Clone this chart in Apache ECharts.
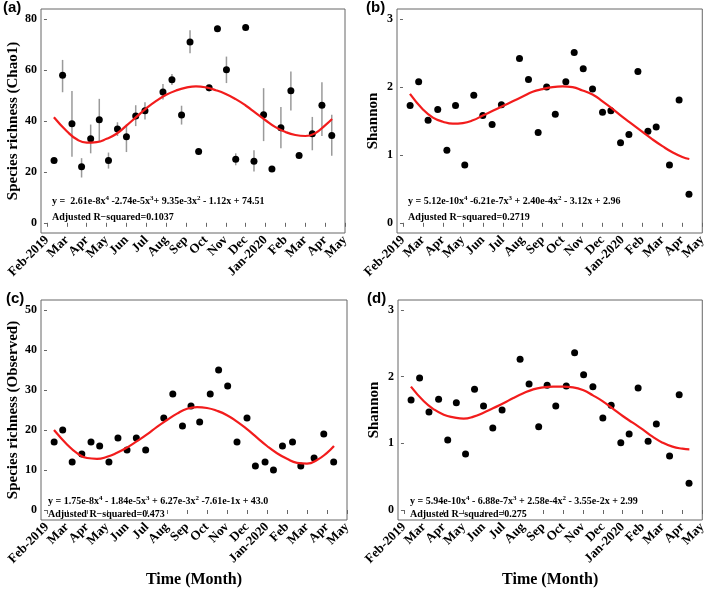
<!DOCTYPE html>
<html>
<head>
<meta charset="utf-8">
<script src="https://cdn.jsdelivr.net/npm/echarts@6/dist/echarts.min.js"></script>
<style>
  html, body { margin: 0; padding: 0; background: #fff; }
  #main { width: 709px; height: 589px; }
</style>
</head>
<body>
<div id="main"></div>
<script>
// month tick labels (Feb-2019 .. May-2020)
var monthLabels = ['Feb-2019', 'Mar', 'Apr', 'May', 'Jun', 'Jul', 'Aug', 'Sep', 'Oct', 'Nov', 'Dec', 'Jan-2020', 'Feb', 'Mar', 'Apr', 'May'];
var monthTicks = [0, 1, 2, 3, 4, 5, 6, 7, 8, 9, 10, 11, 12, 13, 14, 15];

// sampling dates
var sampleDates = ['2019-02-11', '2019-02-23', '2019-03-09', '2019-03-24', '2019-04-07', '2019-04-20', '2019-05-04', '2019-05-18',
  '2019-06-01', '2019-06-15', '2019-06-29', '2019-07-27', '2019-08-10', '2019-08-25', '2019-09-07', '2019-09-20',
  '2019-10-06', '2019-10-19', '2019-11-02', '2019-11-16', '2019-12-01', '2019-12-14', '2019-12-29', '2020-01-11',
  '2020-01-25', '2020-02-09', '2020-02-21', '2020-03-12', '2020-03-27', '2020-04-11'];

// (a) Chao1 with error bars
var chao1 = [24.5, 58.0, 38.9, 22.0, 33.0, 40.5, 24.5, 36.9, 33.8, 42.0, 44.0, 51.4, 56.2, 42.4, 71.0, 28.0,
  53.1, 76.2, 60.1, 25.0, 76.7, 24.2, 42.5, 21.1, 37.3, 51.9, 26.4, 35.0, 46.2, 34.3];
var chao1Low = [null, 51.3, 26.0, 17.8, 27.3, 31.9, 21.3, 34.1, 27.8, 38.0, 40.6, 48.4, 54.1, 38.6, 66.6, null,
  51.6, 75.0, 54.9, 22.6, null, 20.2, 32.1, null, 29.3, 44.1, null, 28.5, 34.1, 26.3];
var chao1High = [null, 64.0, 51.8, 25.4, 38.6, 48.7, 27.6, 39.5, 38.6, 46.2, 47.4, 54.5, 58.5, 46.0, 75.7, null,
  54.1, 77.4, 65.3, 27.3, null, 28.5, 52.9, null, 45.5, 59.4, null, 41.6, 55.2, 42.5];
// (b) Shannon
var shannonB = [1.73, 2.08, 1.51, 1.67, 1.07, 1.73, 0.85, 1.88, 1.58, 1.45, 1.74, 2.42, 2.11, 1.33, 2.00, 1.60,
  2.08, 2.51, 2.27, 1.97, 1.63, 1.65, 1.18, 1.30, 2.23, 1.35, 1.41, 0.85, 1.81, 0.42];
// (c) Observed
var observed = [17, 20, 12, 14, 17, 16, 12, 18, 15, 18, 15, 23, 29, 21, 26, 22,
  29, 35, 31, 17, 23, 11, 12, 10, 16, 17, 11, 13, 19, 12];
// (d) Shannon
var shannonD = [1.65, 1.98, 1.47, 1.66, 1.05, 1.61, 0.84, 1.81, 1.56, 1.23, 1.50, 2.26, 1.89, 1.25, 1.87, 1.56,
  1.86, 2.36, 2.03, 1.85, 1.38, 1.57, 1.01, 1.14, 1.83, 1.03, 1.29, 0.81, 1.73, 0.40];

// fitted curves (month position -> value)
var curveX = [0.35, 1, 1.5, 2, 2.5, 3, 3.5, 4, 4.5, 5, 5.5, 6, 6.5, 7, 7.5, 8, 8.5, 9, 9.5, 10, 10.5, 11, 11.5, 12, 12.5, 13, 13.5, 14, 14.35];
var fitA = [41.5, 36.0, 32.8, 31.5, 31.7, 33.0, 35.0, 38.2, 41.6, 45.0, 47.9, 50.3, 52.0, 53.1, 53.6, 53.2, 52.1, 50.6, 48.6, 46.1, 43.2, 40.3, 37.6, 35.7, 34.5, 34.1, 35.2, 38.3, 40.8];
var fitB = [1.90, 1.67, 1.55, 1.49, 1.46, 1.47, 1.51, 1.58, 1.65, 1.72, 1.79, 1.86, 1.93, 1.97, 2.00, 2.01, 2.00, 1.95, 1.89, 1.79, 1.68, 1.56, 1.45, 1.34, 1.23, 1.13, 1.04, 0.97, 0.94];
var fitC = [20.0, 16.4, 14.2, 13.0, 12.8, 13.3, 14.3, 15.6, 17.2, 18.9, 20.8, 22.5, 24.1, 25.3, 25.7, 25.5, 24.8, 23.7, 22.1, 20.2, 18.1, 16.0, 14.2, 12.8, 11.8, 11.6, 12.5, 14.3, 16.0];
var fitD = [1.85, 1.63, 1.51, 1.43, 1.39, 1.37, 1.40, 1.46, 1.53, 1.60, 1.68, 1.75, 1.81, 1.84, 1.85, 1.85, 1.84, 1.80, 1.72, 1.63, 1.52, 1.41, 1.31, 1.21, 1.10, 1.01, 0.95, 0.92, 0.91];

var eqA = ['y =  2.61e-8x', '4', ' -2.74e-5x', '3', '+ 9.35e-3x', '2', ' - 1.12x + 74.51'];
var eqB = ['y = 5.12e-10x', '4', ' -6.21e-7x', '3', ' + 2.40e-4x', '2', ' - 3.12x + 2.96'];
var eqC = ['y = 1.75e-8x', '4', ' - 1.84e-5x', '3', ' + 6.27e-3x', '2', ' -7.61e-1x + 43.0'];
var eqD = ['y = 5.94e-10x', '4', ' - 6.88e-7x', '3', ' + 2.58e-4x', '2', ' - 3.55e-2x + 2.99'];
var r2 = ['Adjusted R\u2212squared=0.1037', 'Adjusted R\u2212squared=0.2719', 'Adjusted R\u2212squared=0.473', 'Adjusted R\u2212squared=0.275'];

var SERIF = 'Liberation Serif, Times New Roman, serif';

function toMonth(s) {
  var p = s.split('-');
  var y = +p[0], m = +p[1], d = +p[2];
  var dim = new Date(y, m, 0).getDate();
  return (y - 2019) * 12 + (m - 1) - 1 + (d - 1) / dim;
}
var xs = sampleDates.map(toMonth);

function pts(vals) {
  return vals.map(function (v, i) { return [xs[i], v]; });
}
function curve(vals) {
  return vals.map(function (v, i) { return [curveX[i], v]; });
}

var grids = [
  { left: 41, top: 9, width: 304, height: 224 },
  { left: 397, top: 9, width: 308, height: 224 },
  { left: 41, top: 300, width: 306, height: 227 },
  { left: 398, top: 300, width: 309, height: 227 }
];
grids.forEach(function (g) {
  g.show = true;
  g.borderColor = '#666';
  g.borderWidth = 1;
  g.backgroundColor = '#fff';
});

var yCfg = [
  { min: -4, max: 84, ticks: [0, 20, 40, 60, 80], name: 'Species richness (Chao1)', gap: 20 },
  { min: -0.15, max: 3.15, ticks: [0, 1, 2, 3], name: 'Shannon', gap: 16 },
  { min: -2.5, max: 52.5, ticks: [0, 10, 20, 30, 40, 50], name: 'Species richness (Observed)', gap: 20 },
  { min: -0.15, max: 3.15, ticks: [0, 1, 2, 3], name: 'Shannon', gap: 16 }
];

var xAxes = [0, 1, 2, 3].map(function (i) {
  return {
    type: 'value', gridIndex: i, min: -0.3, max: 15,
    axisLine: { show: false },
    splitLine: { show: false },
    axisTick: { show: true, length: 4, customValues: monthTicks, lineStyle: { color: '#666' } },
    axisLabel: {
      customValues: monthTicks, rotate: 45, margin: 5,
      fontFamily: SERIF, fontWeight: 'bold', fontSize: 13, color: '#000',
      formatter: function (v) { return monthLabels[Math.round(v)]; }
    },
    name: i >= 2 ? 'Time (Month)' : '',
    nameLocation: 'middle', nameGap: 52,
    nameTextStyle: { fontFamily: SERIF, fontWeight: 'bold', fontSize: 16, color: '#000' }
  };
});

var yAxes = yCfg.map(function (c, i) {
  return {
    type: 'value', gridIndex: i, min: c.min, max: c.max,
    axisLine: { show: false },
    splitLine: { show: false },
    axisTick: { show: true, length: 3, customValues: c.ticks, lineStyle: { color: '#666' } },
    axisLabel: {
      customValues: c.ticks, margin: 4,
      fontFamily: SERIF, fontWeight: 'bold', fontSize: 12, color: '#000'
    },
    name: c.name, nameLocation: 'middle', nameGap: c.gap, nameRotate: 90,
    nameTextStyle: { fontFamily: SERIF, fontWeight: 'bold', fontSize: 15, color: '#000' }
  };
});

var errData = [];
chao1.forEach(function (v, i) {
  if (chao1Low[i] != null) errData.push([xs[i], chao1Low[i], chao1High[i]]);
});

function scatter(i, vals) {
  return {
    type: 'scatter', xAxisIndex: i, yAxisIndex: i, data: pts(vals),
    symbolSize: 7, itemStyle: { color: '#000', opacity: 1 }, z: 3, silent: true
  };
}
function fitLine(i, vals) {
  return {
    type: 'line', xAxisIndex: i, yAxisIndex: i, data: curve(vals),
    smooth: true, showSymbol: false, lineStyle: { color: '#f21c1c', width: 2.2 }, z: 4, silent: true
  };
}

var series = [
  {
    type: 'custom', xAxisIndex: 0, yAxisIndex: 0, data: errData, z: 2, silent: true,
    renderItem: function (params, api) {
      var a = api.coord([api.value(0), api.value(1)]);
      var b = api.coord([api.value(0), api.value(2)]);
      return { type: 'line', shape: { x1: a[0], y1: a[1], x2: b[0], y2: b[1] }, style: { stroke: '#9a9a9a', lineWidth: 1.5 } };
    }
  },
  scatter(0, chao1), fitLine(0, fitA),
  scatter(1, shannonB), fitLine(1, fitB),
  scatter(2, observed), fitLine(2, fitC),
  scatter(3, shannonD), fitLine(3, fitD)
];

function eqText(parts, x, y) {
  var t = '';
  parts.forEach(function (p, k) { t += (k % 2 ? '{s|' : '{n|') + p + '}'; });
  return {
    type: 'text', left: x, top: y, z: 10,
    style: {
      text: t,
      rich: {
        n: { fontFamily: SERIF, fontWeight: 'bold', fontSize: 10, fill: '#000', lineHeight: 12 },
        s: { fontFamily: SERIF, fontWeight: 'bold', fontSize: 7, fill: '#000', verticalAlign: 'top', lineHeight: 8 }
      }
    }
  };
}
function plainText(txt, x, y) {
  return {
    type: 'text', left: x, top: y, z: 10,
    style: { text: txt, fontFamily: SERIF, fontWeight: 'bold', fontSize: 10, fill: '#000' }
  };
}
function panelLabel(txt, x, y) {
  return {
    type: 'text', left: x, top: y, z: 10,
    style: { text: txt, fontFamily: 'Liberation Sans, Arial, sans-serif', fontWeight: 'bold', fontSize: 15, fill: '#000' }
  };
}

var graphics = [
  panelLabel('(a)', 3, 0), panelLabel('(b)', 366, 0), panelLabel('(c)', 6, 291), panelLabel('(d)', 367, 291),
  eqText(eqA, 52, 195), plainText(r2[0], 52, 212),
  eqText(eqB, 408, 195), plainText(r2[1], 408, 212),
  eqText(eqC, 48, 495), plainText(r2[2], 48, 509),
  eqText(eqD, 410, 495), plainText(r2[3], 410, 509)
];

var myChart = echarts.init(document.getElementById('main'), null, { renderer: 'canvas' });
myChart.setOption({
  animation: false,
  backgroundColor: '#fff',
  grid: grids,
  xAxis: xAxes,
  yAxis: yAxes,
  series: series,
  graphic: graphics
});
</script>
</body>
</html>
